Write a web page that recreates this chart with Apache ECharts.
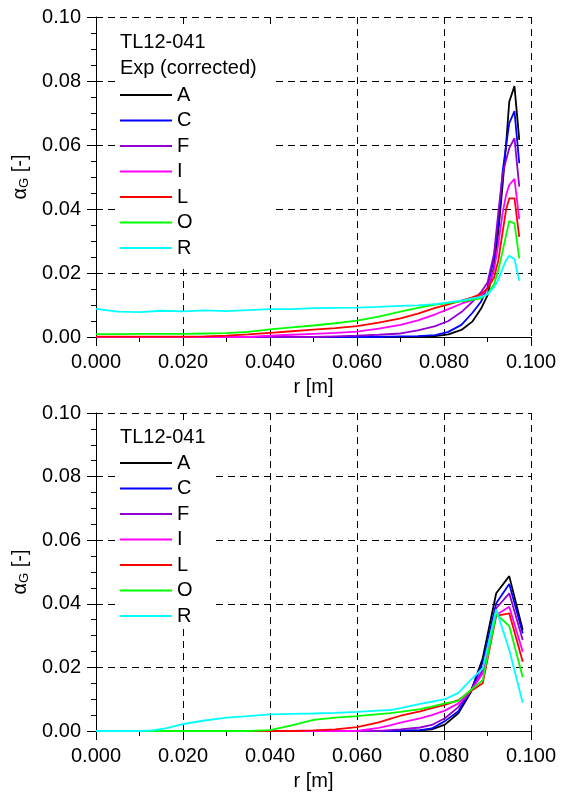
<!DOCTYPE html>
<html>
<head>
<meta charset="utf-8">
<script src="https://cdn.jsdelivr.net/npm/echarts@6/dist/echarts.min.js"></script>
<style>html,body{margin:0;padding:0;background:#fff}#c{width:561px;height:796px}</style>
</head>
<body>
<div id="c"></div>
<script>
const NAMES = ['A','C','F','I','L','O','R'];
const COLORS = ['#000000','#0000ff','#9400d3','#ff00ff','#ff0000','#00ff00','#00ffff'];
const X_TICKS = [0, 0.02, 0.04, 0.06, 0.08, 0.10];

// Top panel: Exp (corrected)
const X_TOP = [0, 0.005, 0.010, 0.015, 0.020, 0.025, 0.030, 0.035, 0.040, 0.045, 0.050, 0.055, 0.060, 0.065, 0.070,
  0.074, 0.078, 0.081, 0.084, 0.0865, 0.0885, 0.090, 0.0915, 0.0925, 0.0935, 0.0943, 0.0950, 0.0962, 0.0973];
const A_TOP = [0,0,0,0,0,0,0,0,0,0,0,0,0,0,0,
  0.0001, 0.0003, 0.0008, 0.0022, 0.0048, 0.0088, 0.0130, 0.0220, 0.0330, 0.0480, 0.0606, 0.0735, 0.0784, 0.0616];
const C_TOP = [0,0,0,0,0,0,0,0,0,0,0,0,0,0,0.0002,
  0.0003, 0.0006, 0.0016, 0.0038, 0.0075, 0.0110, 0.0155, 0.0250, 0.0360, 0.0520, 0.0600, 0.0668, 0.0706, 0.0543];
const F_TOP = [0,0,0,0,0,0,0,0,0,0,0,0.0002,0.0004,0.0007,0.0011,
  0.0021, 0.0034, 0.0050, 0.0078, 0.0110, 0.0140, 0.0170, 0.0260, 0.0390, 0.0510, 0.0555, 0.0590, 0.0621, 0.0470];
const I_TOP = [0,0,0,0,0,0,0,0,0.0004,0.0007,0.0010,0.0013,0.0017,0.0026,0.0038,
  0.0052, 0.0071, 0.0087, 0.0104, 0.0115, 0.0127, 0.0150, 0.0210, 0.0290, 0.0390, 0.0445, 0.0475, 0.0494, 0.0368];
const L_TOP = [0.0001,0.0001,0.0001,0.0001,0.0001,0.0002,0.0004,0.0008,0.0013,0.0018,0.0023,0.0028,0.0034,0.0045,0.0058,
  0.0073, 0.0091, 0.0102, 0.0114, 0.0124, 0.0134, 0.0152, 0.0185, 0.0240, 0.0330, 0.0400, 0.0433, 0.0433, 0.0313];
const O_TOP = [0.0009,0.0009,0.0010,0.0010,0.0010,0.0011,0.0012,0.0016,0.0024,0.0030,0.0036,0.0043,0.0051,0.0064,0.0079,
  0.0091, 0.0101, 0.0106, 0.0111, 0.0116, 0.0121, 0.0135, 0.0165, 0.0210, 0.0270, 0.0320, 0.0362, 0.0355, 0.0246];
const R_TOP = [0.0088,0.0079,0.0078,0.0082,0.0080,0.0083,0.0081,0.0084,0.0087,0.0087,0.0090,0.0091,0.0092,0.0094,0.0097,
  0.0099, 0.0103, 0.0108, 0.0114, 0.0121, 0.0125, 0.0133, 0.0155, 0.0180, 0.0215, 0.0240, 0.0254, 0.0243, 0.0176];

// Bottom panel: simulation
const X_BOT = [0, 0.005, 0.010, 0.013, 0.016, 0.020, 0.025, 0.030, 0.035, 0.040, 0.045, 0.050, 0.055, 0.060, 0.065,
  0.0676, 0.070, 0.0745, 0.0772, 0.0802, 0.0833, 0.0861, 0.0889, 0.092, 0.095, 0.0981];
const A_BOT = [0,0,0,0,0,0,0,0,0,0,0,0,0,0,0,
  0, 0.0001, 0.0002, 0.0005, 0.0020, 0.0056, 0.0120, 0.0229, 0.0433, 0.0487, 0.0318];
const C_BOT = [0,0,0,0,0,0,0,0,0,0,0,0,0,0,0,
  0, 0.0001, 0.0003, 0.0008, 0.0031, 0.0062, 0.0125, 0.0215, 0.0402, 0.0462, 0.0307];
const F_BOT = [0,0,0,0,0,0,0,0,0,0,0,0,0,0,0,
  0.0003, 0.0005, 0.0011, 0.0019, 0.0040, 0.0075, 0.0125, 0.0192, 0.0386, 0.0433, 0.0286];
const I_BOT = [0,0,0,0,0,0,0,0,0,0,0,0,0,0,0.0010,
  0.0018, 0.0026, 0.0040, 0.0050, 0.0064, 0.0087, 0.0125, 0.0181, 0.0365, 0.0391, 0.0249];
const L_BOT = [0,0,0,0,0,0,0,0,0,0,0,0.0002,0.0005,0.0012,0.0027,
  0.0038, 0.0048, 0.0062, 0.0072, 0.0082, 0.0097, 0.0125, 0.0150, 0.0362, 0.0370, 0.0218];
const O_BOT = [0,0,0,0,0,0,0,0,0,0.0003,0.0018,0.0035,0.0042,0.0047,0.0053,
  0.0056, 0.0060, 0.0069, 0.0077, 0.0087, 0.0095, 0.0128, 0.0160, 0.0368, 0.0330, 0.0169];
const R_BOT = [0,0,0,0.0002,0.0008,0.0022,0.0033,0.0042,0.0047,0.0052,0.0054,0.0055,0.0057,0.0060,0.0064,
  0.0066, 0.0072, 0.0085, 0.0092, 0.0100, 0.0120, 0.0160, 0.0197, 0.0383, 0.0255, 0.0089];

const TOP_SERIES = [A_TOP, C_TOP, F_TOP, I_TOP, L_TOP, O_TOP, R_TOP];
const BOT_SERIES = [A_BOT, C_BOT, F_BOT, I_BOT, L_BOT, O_BOT, R_BOT];

const FONT = 'Liberation Sans';
const FS = 20;

function xAxis(gi) {
  return {
    gridIndex: gi, type: 'value', min: 0, max: 0.1, interval: 0.02,
    name: 'r [m]', nameLocation: 'middle', nameGap: 40,
    nameTextStyle: {fontFamily: FONT, fontSize: FS, color: '#000'},
    axisLine: {show: true, onZero: false, lineStyle: {color: '#000', width: 1}},
    axisTick: {show: true, inside: false, length: 9, lineStyle: {color: '#000'}},
    minorTick: {show: true, splitNumber: 2, length: 5, lineStyle: {color: '#000'}},
    axisLabel: {fontFamily: FONT, fontSize: FS, color: '#000', margin: 15, formatter: v => v.toFixed(3)},
    splitLine: {show: true, lineStyle: {color: '#000', type: [7, 5], width: 1}}
  };
}
function yAxis(gi) {
  return {
    gridIndex: gi, type: 'value', min: 0, max: 0.1, interval: 0.02,
    name: '{a|α}{s|G}{a| [-]}', nameLocation: 'middle', nameGap: 64, nameRotate: 90,
    nameTextStyle: {fontFamily: FONT, fontSize: FS, color: '#000',
      rich: {a: {fontFamily: FONT, fontSize: FS, color: '#000'},
             s: {fontFamily: FONT, fontSize: 13, color: '#000', padding: [8, 0, 0, 0], verticalAlign: 'bottom'}}},
    axisLine: {show: true, onZero: false, lineStyle: {color: '#000', width: 1}},
    axisTick: {show: true, inside: false, length: 9, lineStyle: {color: '#000'}},
    minorTick: {show: true, splitNumber: 4, length: 5, lineStyle: {color: '#000'}},
    axisLabel: {fontFamily: FONT, fontSize: FS, color: '#000', margin: 15, formatter: v => v.toFixed(2)},
    splitLine: {show: true, lineStyle: {color: '#000', type: [7, 5], width: 1}}
  };
}

const series = [];
[[X_TOP, TOP_SERIES, 0], [X_BOT, BOT_SERIES, 1]].forEach(([xs, vals, gi]) => {
  vals.forEach((arr, k) => {
    series.push({
      type: 'line', name: NAMES[k], xAxisIndex: gi, yAxisIndex: gi,
      data: xs.map((x, i) => [x, arr[i]]),
      showSymbol: false, symbol: 'none', smooth: false,
      lineStyle: {color: COLORS[k], width: 1.8}, itemStyle: {color: COLORS[k]},
      emphasis: {disabled: true}, animation: false, silent: true, z: 2
    });
  });
});

function legend(top, padding) {
  return {
    orient: 'vertical', left: 117, top: top, data: NAMES,
    icon: 'rect', itemWidth: 52, itemHeight: 2, itemGap: 5.5,
    backgroundColor: '#fff', padding: padding, selectedMode: false,
    textStyle: {fontFamily: FONT, fontSize: FS, color: '#000', lineHeight: 20}
  };
}

const option = {
  animation: false,
  backgroundColor: '#fff',
  textStyle: {fontFamily: FONT},
  grid: [
    {left: 96, top: 17, width: 435, height: 320},
    {left: 96, top: 413, width: 435, height: 318}
  ],
  xAxis: [xAxis(0), xAxis(1)],
  yAxis: [yAxis(0), yAxis(1)],
  legend: [legend(27, [58, 82, 10, 3]), legend(425, [28, 22, 1, 3])],
  title: [
    {text: 'TL12-041\nExp (corrected)', left: 120, top: 30, padding: 0,
     textStyle: {fontFamily: FONT, fontSize: FS, fontWeight: 'normal', color: '#000', lineHeight: 25.5}},
    {text: 'TL12-041', left: 120, top: 425, padding: 0,
     textStyle: {fontFamily: FONT, fontSize: FS, fontWeight: 'normal', color: '#000', lineHeight: 25.5}}
  ],
  series: series
};
const chart = echarts.init(document.getElementById('c'), null, {renderer: 'canvas'});
chart.setOption(option);
</script>
</body>
</html>
